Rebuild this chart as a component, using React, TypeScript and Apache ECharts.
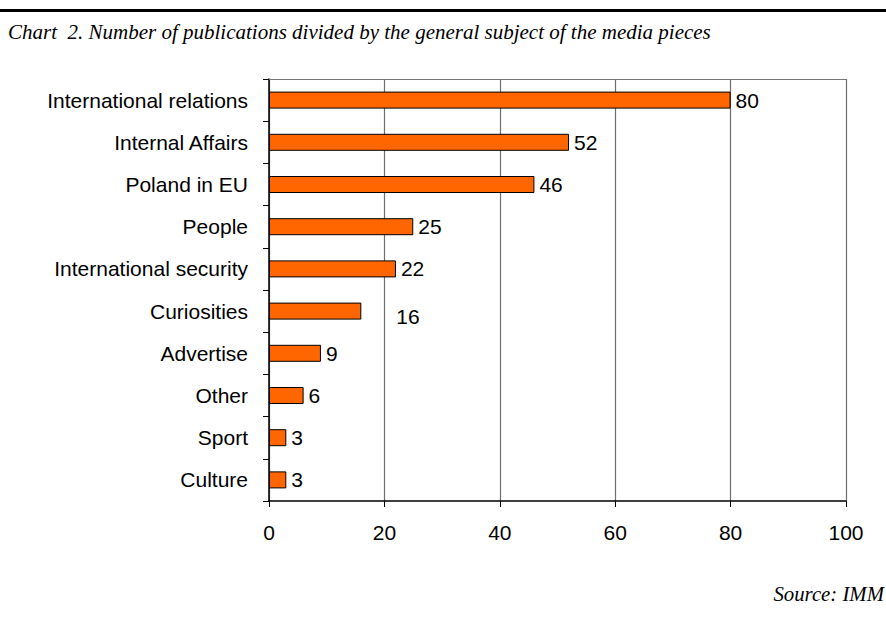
import React, { useEffect, useRef } from "react";
import * as echarts from "echarts";

const categories = [
  "International relations",
  "Internal Affairs",
  "Poland in EU",
  "People",
  "International security",
  "Curiosities",
  "Advertise",
  "Other",
  "Sport",
  "Culture",
];
const values = [80, 52, 46, 25, 22, 16, 9, 6, 3, 3];
const xTicks = [0, 20, 40, 60, 80, 100];
const titleText = "Chart  2. Number of publications divided by the general subject of the media pieces";
const sourceText = "Source: IMM";

export default function App() {
  const ref = useRef<HTMLDivElement>(null);
  useEffect(() => {
    if (!ref.current) return;
    const chart = echarts.init(ref.current, null, { renderer: "svg" });
    const labelFont = { fontFamily: "Liberation Sans, Arial, sans-serif", fontSize: 21, color: "#000" };
    chart.setOption({
      animation: false,
      backgroundColor: "#fff",
      grid: { left: 269, top: 79, right: 40, bottom: 138, containLabel: false },
      xAxis: [
        {
          type: "value",
          min: xTicks[0],
          max: xTicks[xTicks.length - 1],
          interval: 20,
          axisLine: { show: true, lineStyle: { color: "#000", width: 1.5 } },
          axisTick: { show: true, length: 6, lineStyle: { color: "#000" } },
          axisLabel: { ...labelFont, margin: 21 },
          splitLine: { show: true, lineStyle: { color: "#6e6e6e", width: 1.2 } },
        },
        {
          type: "value",
          position: "top",
          min: 0,
          max: 100,
          axisLine: { show: true, onZero: false, lineStyle: { color: "#777", width: 1.2 } },
          axisTick: { show: false },
          axisLabel: { show: false },
          splitLine: { show: false },
        },
      ],
      yAxis: {
        type: "category",
        data: categories,
        inverse: true,
        axisLine: { show: true, lineStyle: { color: "#000", width: 1.5 } },
        axisTick: { show: true, length: 6, lineStyle: { color: "#000" } },
        axisLabel: { ...labelFont, margin: 21 },
        splitLine: { show: false },
      },
      series: [
        {
          type: "bar",
          xAxisIndex: 0,
          data: values.map((v, i) =>
            categories[i] === "Curiosities"
              ? { value: v, label: { offset: [30, 5] } }
              : v
          ),
          barWidth: 17,
          itemStyle: { color: "#FF6600", borderColor: "#000", borderWidth: 1 },
          label: { show: true, position: "right", distance: 5, ...labelFont },
        },
      ],
      graphic: [
        {
          type: "line",
          shape: { x1: 0, y1: 10.5, x2: 886, y2: 10.5 },
          style: { stroke: "#000", lineWidth: 3 },
        },
        {
          type: "text",
          x: 8,
          y: 32,
          scaleX: 1.0,
          style: {
            text: titleText,
            font: "italic 21px 'Liberation Serif', 'Times New Roman', serif",
            fill: "#000",
            verticalAlign: "middle",
          },
        },
        {
          type: "text",
          x: 884,
          y: 594,
          scaleX: 1.04,
          style: {
            text: sourceText,
            font: "italic 20px 'Liberation Serif', 'Times New Roman', serif",
            fill: "#000",
            align: "right",
            verticalAlign: "middle",
          },
        },
      ],
    });
    return () => chart.dispose();
  }, []);
  return (
    <div
      ref={ref}
      style={{ position: "fixed", left: 0, top: 0, width: 886, height: 639, background: "#fff" }}
    />
  );
}
